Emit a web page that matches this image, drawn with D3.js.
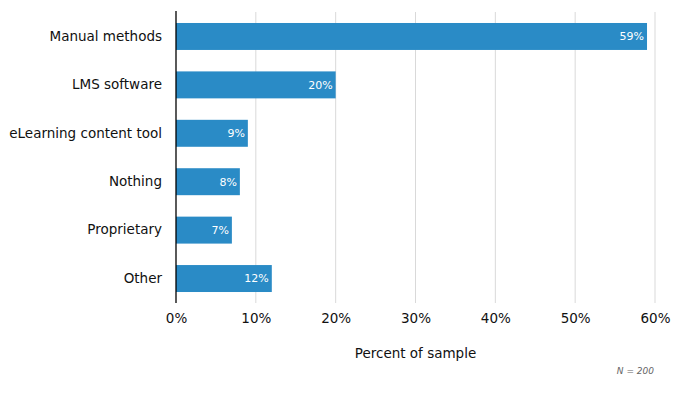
<!DOCTYPE html>
<html>
<head>
<meta charset="utf-8">
<script src="https://cdn.jsdelivr.net/npm/d3@7"></script>
<style>
  body { margin: 0; background: #fff; }
  svg { font-family: "DejaVu Sans", Verdana, sans-serif; }
</style>
</head>
<body>
<div id="chart"></div>
<script>
// data
var categories = ["Manual methods", "LMS software", "eLearning content tool", "Nothing", "Proprietary", "Other"];
var values = [59, 20, 9, 8, 7, 12];
var xTicks = [0, 10, 20, 30, 40, 50, 60];

var width = 675, height = 396;
var plotLeft = 176, plotRight = 655, plotTop = 12, plotBottom = 303;

var svg = d3.select("#chart").append("svg")
    .attr("width", width)
    .attr("height", height);

var x = d3.scaleLinear().domain([0, 60]).range([plotLeft, plotRight]);
var y = d3.scaleBand().domain(categories).range([plotTop, plotBottom])
    .paddingInner(0.443).paddingOuter(0.227);

// gridlines
svg.append("g").selectAll("line")
    .data(xTicks.slice(1))
    .enter().append("line")
    .attr("x1", function(d) { return x(d); })
    .attr("x2", function(d) { return x(d); })
    .attr("y1", plotTop)
    .attr("y2", plotBottom)
    .attr("stroke", "#d9d9d9")
    .attr("stroke-width", 1);

// bars
svg.append("g").selectAll("rect")
    .data(values)
    .enter().append("rect")
    .attr("x", x(0))
    .attr("y", function(d, i) { return y(categories[i]); })
    .attr("width", function(d) { return x(d) - x(0); })
    .attr("height", y.bandwidth())
    .attr("fill", "#2a8bc6");

// value labels
svg.append("g").selectAll("text")
    .data(values)
    .enter().append("text")
    .attr("x", function(d) { return x(d) - 3; })
    .attr("y", function(d, i) { return y(categories[i]) + y.bandwidth() / 2; })
    .attr("dy", "0.35em")
    .attr("text-anchor", "end")
    .attr("fill", "#fff")
    .style("font-size", "11px")
    .text(function(d) { return d + "%"; });

// x axis
var xAxis = d3.axisBottom(x).tickValues(xTicks).tickSize(0).tickPadding(10)
    .tickFormat(function(d) { return d + "%"; });
var gx = svg.append("g")
    .attr("transform", "translate(0," + plotBottom + ")")
    .call(xAxis);
gx.select(".domain").remove();
gx.selectAll("text").style("font-size", "13.5px").attr("fill", "#111").style("font-family", "DejaVu Sans, Verdana, sans-serif");

// y axis
var yAxis = d3.axisLeft(y).tickSize(0).tickPadding(14);
var gy = svg.append("g")
    .attr("transform", "translate(" + plotLeft + ",0)")
    .call(yAxis);
gy.select(".domain").remove();
gy.selectAll("text").style("font-size", "13.5px").attr("fill", "#111").style("font-family", "DejaVu Sans, Verdana, sans-serif");

svg.append("line")
    .attr("x1", plotLeft).attr("x2", plotLeft)
    .attr("y1", plotTop - 1).attr("y2", plotBottom)
    .attr("stroke", "#000").attr("stroke-width", 1.3);

// titles
svg.append("text")
    .attr("x", (plotLeft + plotRight) / 2)
    .attr("y", 358)
    .attr("text-anchor", "middle")
    .attr("fill", "#111")
    .style("font-size", "13.5px")
    .text("Percent of sample");

svg.append("text")
    .attr("x", 654)
    .attr("y", 374)
    .attr("text-anchor", "end")
    .attr("fill", "#666")
    .style("font-size", "9px")
    .style("font-style", "italic")
    .text("N = 200");
</script>
</body>
</html>
